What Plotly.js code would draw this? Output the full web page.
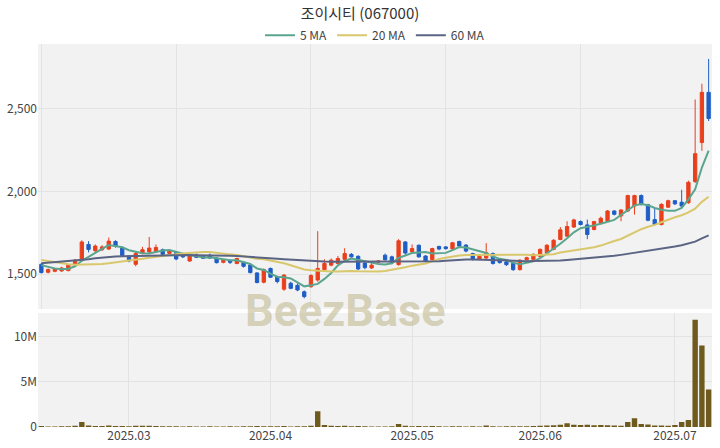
<!DOCTYPE html>
<html>
<head>
<meta charset="utf-8">
<script src="https://cdn.plot.ly/plotly-3.0.1.min.js"></script>
<style>
html,body{margin:0;padding:0;background:#fff;}
#chart{width:720px;height:448px;}
</style>
</head>
<body>
<div id="chart"></div>
<script>
const dates = [
"2025-02-12","2025-02-13","2025-02-14","2025-02-17","2025-02-18","2025-02-19","2025-02-20","2025-02-21","2025-02-24","2025-02-25","2025-02-26","2025-02-27","2025-02-28",
"2025-03-03","2025-03-04","2025-03-05","2025-03-06","2025-03-07","2025-03-10","2025-03-11","2025-03-12","2025-03-13","2025-03-14","2025-03-17","2025-03-18","2025-03-19","2025-03-20","2025-03-21","2025-03-24","2025-03-25","2025-03-26","2025-03-27","2025-03-28","2025-03-31",
"2025-04-01","2025-04-02","2025-04-03","2025-04-04","2025-04-07","2025-04-08","2025-04-09","2025-04-10","2025-04-11","2025-04-14","2025-04-15","2025-04-16","2025-04-17","2025-04-18","2025-04-21","2025-04-22","2025-04-23","2025-04-24","2025-04-25","2025-04-28","2025-04-29",
"2025-05-02","2025-05-07","2025-05-08","2025-05-09","2025-05-12","2025-05-13","2025-05-14","2025-05-15","2025-05-16","2025-05-19","2025-05-20","2025-05-21","2025-05-22","2025-05-23","2025-05-26","2025-05-27","2025-05-28","2025-05-29","2025-05-30",
"2025-06-02","2025-06-03","2025-06-04","2025-06-05","2025-06-09","2025-06-10","2025-06-11","2025-06-12","2025-06-13","2025-06-16","2025-06-17","2025-06-18","2025-06-19","2025-06-20","2025-06-23","2025-06-24","2025-06-25","2025-06-26","2025-06-27","2025-06-30",
"2025-07-01","2025-07-02","2025-07-03","2025-07-04","2025-07-07","2025-07-08"
];
const openP = [1560,1512,1518,1520,1522,1555,1590,1680,1642,1648,1652,1698,1662,1610,1560,1628,1635,1635,1648,1626,1632,1618,1580,1616,1608,1615,1598,1572,1582,1565,1572,1556,1508,1452,1535,1486,1410,1446,1433,1394,1425,1465,1528,1555,1565,1590,1620,1608,1568,1538,1573,1615,1605,1558,1695,1635,1675,1610,1588,1668,1665,1653,1698,1676,1625,1592,1598,1625,1590,1575,1565,1528,1588,1590,1608,1630,1650,1710,1730,1785,1818,1798,1770,1810,1820,1882,1852,1882,1912,1975,1920,1830,1800,1905,1944,1935,1932,2060,2295,2598];
const highP = [1568,1535,1538,1545,1560,1592,1705,1700,1680,1675,1722,1705,1668,1615,1635,1665,1725,1680,1655,1645,1640,1625,1632,1625,1615,1625,1602,1590,1590,1600,1578,1560,1512,1535,1540,1490,1500,1455,1445,1402,1500,1760,1590,1595,1610,1657,1628,1615,1575,1575,1584,1625,1612,1712,1700,1680,1680,1615,1660,1672,1670,1695,1702,1682,1630,1615,1688,1632,1595,1580,1570,1590,1606,1626,1656,1682,1712,1785,1820,1835,1825,1830,1822,1848,1888,1886,1892,1980,1980,1982,1925,1900,1928,1950,1948,2010,2065,2555,2650,2800];
const lowP = [1505,1505,1512,1515,1518,1550,1585,1632,1635,1640,1648,1660,1605,1572,1548,1620,1625,1630,1612,1618,1585,1598,1575,1598,1592,1592,1565,1566,1562,1560,1540,1505,1445,1445,1478,1445,1400,1410,1398,1355,1418,1455,1520,1548,1560,1585,1600,1525,1530,1532,1568,1582,1560,1552,1620,1630,1600,1572,1582,1645,1648,1648,1665,1632,1582,1588,1592,1558,1565,1550,1520,1522,1582,1585,1602,1625,1645,1705,1725,1780,1795,1712,1765,1805,1815,1855,1820,1875,1860,1915,1820,1795,1795,1900,1918,1905,1925,2050,2245,2425];
const closeP = [1510,1528,1532,1538,1555,1585,1695,1650,1670,1665,1700,1668,1612,1580,1625,1648,1658,1662,1620,1640,1592,1605,1612,1602,1596,1598,1570,1584,1572,1595,1548,1510,1450,1528,1482,1456,1495,1415,1405,1365,1492,1535,1565,1585,1595,1625,1605,1532,1540,1555,1580,1588,1568,1702,1628,1655,1605,1580,1655,1652,1655,1690,1670,1640,1590,1608,1630,1565,1570,1558,1528,1585,1600,1620,1650,1675,1705,1768,1788,1828,1800,1740,1818,1838,1882,1862,1888,1975,1975,1922,1826,1800,1922,1944,1925,1912,2055,2228,2598,2440];
const ma5 = [1555,1545,1535,1530,1533,1548,1581,1605,1631,1653,1676,1671,1663,1645,1637,1627,1625,1635,1643,1646,1634,1624,1614,1610,1601,1603,1596,1590,1584,1584,1574,1562,1535,1526,1504,1485,1482,1475,1451,1427,1434,1442,1472,1508,1554,1581,1595,1588,1579,1571,1562,1559,1566,1599,1613,1628,1632,1634,1625,1629,1629,1646,1664,1661,1649,1640,1628,1607,1593,1586,1570,1561,1568,1578,1597,1626,1650,1684,1717,1753,1778,1785,1795,1805,1816,1828,1858,1889,1916,1924,1917,1900,1889,1883,1883,1901,1952,2013,2144,2247];
const ma20 = [1586,1580,1572,1565,1560,1558,1558,1559,1560,1562,1566,1571,1575,1580,1586,1593,1600,1606,1612,1617,1621,1625,1629,1632,1634,1635,1629,1625,1620,1617,1609,1601,1593,1591,1584,1574,1566,1554,1543,1529,1524,1521,1518,1517,1517,1519,1520,1518,1516,1514,1516,1520,1526,1534,1542,1552,1557,1565,1578,1592,1600,1608,1613,1616,1616,1615,1616,1618,1619,1619,1617,1617,1618,1614,1615,1616,1621,1631,1637,1646,1653,1656,1663,1673,1688,1701,1713,1734,1754,1772,1787,1798,1814,1830,1844,1856,1873,1896,1937,1968];
const ma60 = [1566,1569,1572,1575,1578,1582,1586,1591,1596,1601,1605,1607,1609,1610,1611,1612,1613,1614,1615,1616,1616,1616,1616,1615,1615,1614,1613,1612,1611,1610,1608,1606,1603,1600,1597,1594,1591,1588,1585,1582,1580,1578,1577,1576,1576,1576,1576,1576,1576,1576,1576,1576,1577,1577,1578,1578,1578,1578,1578,1579,1582,1585,1587,1589,1589,1589,1588,1587,1585,1584,1581,1579,1579,1580,1580,1581,1581,1583,1586,1589,1593,1595,1598,1602,1607,1611,1617,1623,1630,1635,1640,1645,1653,1660,1667,1675,1684,1697,1717,1735];
const volume = [120000,60000,50000,70000,90000,150000,560000,180000,120000,100000,160000,110000,100000,90000,140000,130000,150000,110000,80000,70000,80000,60000,70000,50000,50000,90000,60000,50000,90000,60000,70000,80000,110000,90000,80000,70000,100000,60000,70000,90000,130000,1750000,220000,140000,110000,150000,90000,110000,70000,60000,50000,60000,70000,320000,150000,90000,100000,80000,100000,70000,60000,90000,70000,60000,70000,60000,170000,90000,60000,70000,80000,90000,80000,110000,130000,180000,200000,250000,420000,250000,230000,240000,200000,230000,190000,160000,150000,560000,980000,340000,280000,180000,160000,130000,220000,560000,780000,11900000,9050000,4150000];
const monthTickDates = ["2025-03-03","2025-04-01","2025-05-02","2025-06-02","2025-07-01"];
const monthTickText = ["2025.03","2025.04","2025.05","2025.06","2025.07"];
const topGridDates = [dates[0],dates[20],dates[40],dates[60],dates[80]];

const UP = '#ea3f1c', DOWN = '#1f5ec6';
const FONT = 'Noto Sans CJK KR, Noto Sans, sans-serif';

const traces = [
  {type:'candlestick', x:dates, open:openP, high:highP, low:lowP, close:closeP,
   xaxis:'x', yaxis:'y', showlegend:false, hoverinfo:'skip',
   increasing:{line:{color:UP,width:1}, fillcolor:UP},
   decreasing:{line:{color:DOWN,width:1}, fillcolor:DOWN}},
  {type:'scatter', mode:'lines', name:'5 MA', x:dates, y:ma5, xaxis:'x', yaxis:'y',
   line:{color:'#5aa58e', width:2}},
  {type:'scatter', mode:'lines', name:'20 MA', x:dates, y:ma20, xaxis:'x', yaxis:'y',
   line:{color:'#d9c76c', width:2}},
  {type:'scatter', mode:'lines', name:'60 MA', x:dates, y:ma60, xaxis:'x', yaxis:'y',
   line:{color:'#5b6483', width:2}},
  {type:'bar', x:dates, y:volume, xaxis:'x2', yaxis:'y2', showlegend:false,
   marker:{color:'#6f5a1d'}}
];

const layout = {
  width:720, height:448,
  paper_bgcolor:'#ffffff', plot_bgcolor:'#f2f2f2',
  margin:{l:38, r:8, t:44, b:21},
  font:{family:FONT, color:'#444', size:12},
  title:{text:'조이시티 (067000)', x:0.5, xanchor:'center', y:0.969, yanchor:'middle',
         font:{family:FONT, size:15, color:'#333'}},
  showlegend:true,
  legend:{orientation:'h', x:0.5, xanchor:'center', y:0.985, yanchor:'bottom',
          font:{family:FONT, size:12, color:'#444'}, bgcolor:'rgba(0,0,0,0)'},
  bargap:0.2,
  xaxis:{type:'category', domain:[0,1], anchor:'y', rangeslider:{visible:false},
         tickmode:'array', tickvals:topGridDates, showticklabels:false,
         showgrid:true, gridcolor:'#e3e3e3', zeroline:false, ticks:'',
         range:[-0.5, dates.length-0.5]},
  yaxis:{domain:[0.308,1], anchor:'x', range:[1290,2890], tickformat:',',
         tickvals:[1500,2000,2500], showgrid:true, gridcolor:'#e3e3e3', zeroline:false,
         tickfont:{size:12, color:'#444'}, ticks:''},
  xaxis2:{type:'category', domain:[0,1], anchor:'y2', matches:'x',
          tickmode:'array', tickvals:monthTickDates, ticktext:monthTickText,
          showgrid:true, gridcolor:'#e3e3e3', zeroline:false, ticks:'',
          tickfont:{size:12, color:'#444'}, range:[-0.5, dates.length-0.5]},
  yaxis2:{domain:[0,0.298], anchor:'x2', range:[0,12670000], tickformat:'~s',
          tickvals:[0,5000000,10000000], showgrid:true, gridcolor:'#e3e3e3', zeroline:false,
          tickfont:{size:12, color:'#444'}, ticks:''},
  annotations:[{text:'<b>BeezBase</b>', xref:'paper', yref:'paper', x:0.455, y:0.305,
                xanchor:'center', yanchor:'middle', showarrow:false,
                font:{family:'Roboto, Noto Sans, sans-serif', size:45, color:'rgba(192,182,140,0.58)'}}]
};

Plotly.newPlot('chart', traces, layout, {displayModeBar:false, staticPlot:true});
</script>
</body>
</html>
